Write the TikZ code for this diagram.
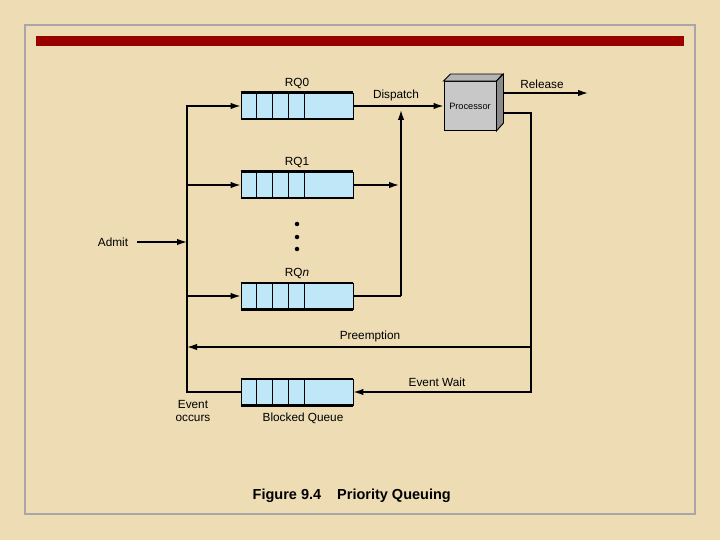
\documentclass[tikz,border=0pt]{standalone}
\usepackage{fontspec}
\setmainfont{Liberation Sans}
\usetikzlibrary{arrows.meta,calc}
\definecolor{parch}{HTML}{EDDCB4}
\definecolor{qblue}{HTML}{BFE7F7}
\definecolor{barred}{HTML}{990000}
\definecolor{framegray}{HTML}{A9A5A9}
\definecolor{procface}{HTML}{C8C8C8}
\definecolor{procside}{HTML}{8A8A8A}
\definecolor{proctop}{HTML}{B4B4B4}
\begin{document}
\begin{tikzpicture}[x=1pt,y=-1pt,line width=1.4pt,
  lbl/.style={font=\fontsize{11.8}{13.5}\selectfont,inner sep=0pt,align=center},
  queue/.style={draw,line width=0.8pt,fill=qblue,minimum width=112pt,minimum height=26pt,inner sep=0pt},
  arr/.style={-{Latex[length=10pt,width=6.5pt]}},
  dot/.style={circle,fill=black,inner sep=0pt,minimum size=4.5pt}]
\fill[parch] (0,0) rectangle (720,540);
\useasboundingbox (0,0) rectangle (720,540);
% frame and bar
\draw[framegray,line width=1.6pt] (25,25) rectangle (695,514);
\fill[barred] (36,36) rectangle (684,46);
% queues
\node[queue] (rq0) at (297,106) {};
\node[queue] (rq1) at (297,185) {};
\node[queue] (rqn) at (297,296) {};
\node[queue] (bq) at (297,392) {};
\foreach \q in {rq0,rq1,rqn,bq}{
  \foreach \o in {16,32,48,64}{
    \draw[line width=0.8pt] ([xshift=\o pt]\q.north west) -- ([xshift=\o pt]\q.south west);}
  \draw[line width=2.2pt] (\q.north west) -- (\q.north east);
  \draw[line width=2.2pt] (\q.south west) -- (\q.south east);
}
% processor
\node[draw,line width=0.9pt,fill=procface,minimum width=52pt,minimum height=49pt,inner sep=0pt,
  font=\fontsize{9.2}{10}\selectfont] (proc) at (470,106) {Processor};
\filldraw[fill=proctop,line width=0.9pt] (proc.north west) -- ++(7,-7) -- ++(52,0) -- (proc.north east) -- cycle;
\filldraw[fill=procside,line width=0.9pt] (proc.north east) -- ++(7,-7) -- ++(0,49) -- (proc.south east) -- cycle;
% labels
\node[lbl] (l0) at (297,83) {RQ0};
\node[lbl] (l1) at (297,162) {RQ1};
\node[lbl] (ln) at (297,273) {RQ\textit{n}};
\node[lbl] (ldisp) at (396,95) {Dispatch};
\node[lbl] (lrel) at (542,84) {Release};
\node[lbl] (admit) at (113,242) {Admit};
\node[lbl] (lpre) at (370,336) {Preemption};
\node[lbl] (lew) at (437,382) {Event Wait};
\node[lbl] (leo) at (193,411) {Event\\occurs};
\node[lbl] (lbq) at (303,418) {Blocked Queue};
\node[anchor=west,inner sep=0pt,font=\fontsize{14.5}{16}\selectfont\bfseries] (cap) at (252,496) {Figure 9.4\hspace{16pt}Priority Queuing};
% dots
\node[dot] (d1) at (297,224) {};
\node[dot] (d2) at (297,237) {};
\node[dot] (d3) at (297,249) {};
% coordinates
\coordinate (dj) at (401,106);
\coordinate (nj) at (401,296);
\coordinate (j1) at (401,185);
\coordinate (lt) at (187,106);
\coordinate (lc1) at (187,185);
\coordinate (lcn) at (187,296);
\coordinate (lb) at (187,392);
\coordinate (la) at (187,242);
\coordinate (pr1) at (503,93);
\coordinate (rel) at (588,93);
\coordinate (pr2) at (503,113);
\coordinate (rc) at (531,113);
\coordinate (pc) at (531,347);
\coordinate (pl) at (187,347);
\coordinate (ec) at (531,392);
% connectors
\draw[arr] (rq0) -- (proc);
\draw (rqn.east) -- (nj);
\draw[arr,shorten >=4pt] (nj) -- (dj);
\draw[arr,shorten >=2pt] (rq1) -- (j1);
\draw[arr] (bq.west) -- (lb) -- (lt) -- (rq0.west);
\draw[arr] (lc1) -- (rq1.west);
\draw[arr] (lcn) -- (rqn.west);
\draw[arr] ([xshift=8pt]admit.east) -- (la);
\draw[arr] (pr1) -- (rel);
\draw (pr2) -- (rc) -- (pc);
\draw[arr] (pc) -- (pl);
\draw[arr] (pc) -- (ec) -- (bq.east);
\end{tikzpicture}
\end{document}
